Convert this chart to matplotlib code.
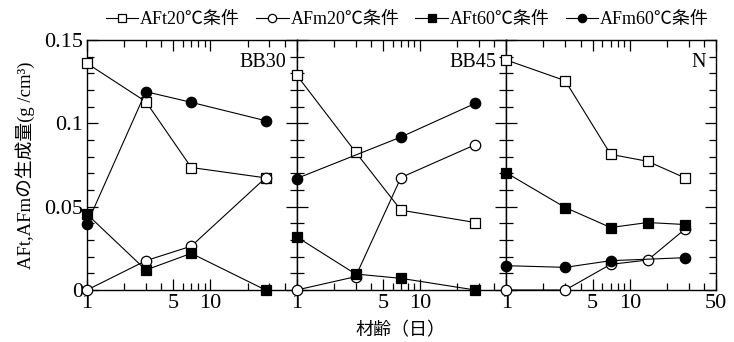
import matplotlib
matplotlib.use("Agg")
import matplotlib.pyplot as plt
from matplotlib.ticker import FixedLocator, NullFormatter

plt.rcParams['font.family'] = ['Liberation Serif', 'Noto Sans CJK JP']

# curing age (days) and amounts (g/cm3) for each mix
panels = ['BB30', 'BB45', 'N']

days_bb30 = [1, 3, 7, 28]
aft20_bb30 = [0.136, 0.113, 0.0735, 0.0673]
afm20_bb30 = [0.0, 0.0176, 0.0263, 0.0673]
aft60_bb30 = [0.0455, 0.012, 0.022, 0.0]
afm60_bb30 = [0.0397, 0.119, 0.1126, 0.1016]

days_bb45 = [1, 3, 7, 28]
aft20_bb45 = [0.129, 0.0828, 0.0479, 0.0405]
afm20_bb45 = [0.0, 0.008, 0.0675, 0.0872]
aft60_bb45 = [0.0319, 0.0096, 0.007, 0.0]
days_afm60_bb45 = [1, 7, 28]
afm60_bb45 = [0.0669, 0.0918, 0.112]

days_n = [1, 3, 7, 14, 28]
aft20_n = [0.138, 0.1256, 0.0814, 0.0772, 0.0673]
afm20_n = [0.0, 0.0, 0.0154, 0.018, 0.0365]
aft60_n = [0.0703, 0.0495, 0.0375, 0.0405, 0.0393]
days_afm60_n = [1, 3, 7, 28]
afm60_n = [0.0146, 0.0136, 0.0176, 0.0194]

series_labels = ['AFt20℃条件', 'AFm20℃条件', 'AFt60℃条件', 'AFm60℃条件']
series_styles = [('s', 'white'), ('o', 'white'), ('s', 'black'), ('o', 'black')]

panel_data = [
    [(days_bb30, aft20_bb30), (days_bb30, afm20_bb30), (days_bb30, aft60_bb30), (days_bb30, afm60_bb30)],
    [(days_bb45, aft20_bb45), (days_bb45, afm20_bb45), (days_bb45, aft60_bb45), (days_afm60_bb45, afm60_bb45)],
    [(days_n, aft20_n), (days_n, afm20_n), (days_n, aft60_n), (days_afm60_n, afm60_n)],
]

fig, axes = plt.subplots(1, 3, figsize=(7.34, 3.42), dpi=100, sharey=True)
fig.subplots_adjust(left=0.1185, right=0.9755, bottom=0.152, top=0.883, wspace=0)

handles = []
for k, (ax, name, data) in enumerate(zip(axes, panels, panel_data)):
    for (x, y), (mk, fc), lab in zip(data, series_styles, series_labels):
        h, = ax.plot(x, y, color='black', lw=0.8, marker=mk, markersize=7.5,
                     markerfacecolor=fc, markeredgecolor='black', markeredgewidth=0.9,
                     label=lab, clip_on=False, zorder=3)
        if k == 0:
            handles.append(h)

    ax.set_xscale('log')
    ax.set_xlim(1, 50)
    ax.set_ylim(0, 0.15)

    ax.xaxis.set_minor_locator(FixedLocator([2, 3, 4, 6, 7, 8, 9, 20, 30, 40]))
    ax.xaxis.set_minor_formatter(NullFormatter())
    ticks = [1, 5, 10, 50] if k == 2 else [1, 5, 10]
    ax.set_xticks(ticks)
    ax.set_xticklabels([str(t) for t in ticks])

    ax.yaxis.set_major_locator(FixedLocator([0, 0.05, 0.1, 0.15]))
    ax.yaxis.set_minor_locator(FixedLocator([i / 100 for i in range(16)]))

    ax.tick_params(which='both', direction='in', top=True, right=True,
                   width=0.9, labelsize=16)
    ax.tick_params(axis='x', pad=3)
    ax.tick_params(axis='y', pad=3)
    ax.tick_params(which='major', length=8)
    ax.tick_params(which='minor', length=5)
    for sp in ax.spines.values():
        sp.set_linewidth(1.0)

    ax.text(0.95, 0.91, name, transform=ax.transAxes, ha='right', va='center',
            fontsize=14.5)

axes[0].set_yticklabels(['0', '0.05', '0.1', '0.15'])
axes[0].set_ylabel('AFt,AFmの生成量(g /cm³)', fontsize=13.5, labelpad=6)

fig.text(0.545, 0.032, '材齢（日）', ha='center', va='center', fontsize=13)

fig.legend(handles, series_labels, loc='upper center', bbox_to_anchor=(0.555, 1.015),
           ncol=4, frameon=False, fontsize=13, handlelength=1.8, handletextpad=0.1,
           columnspacing=0.9, markerscale=0.8)

fig.savefig('out.png', dpi=100)
